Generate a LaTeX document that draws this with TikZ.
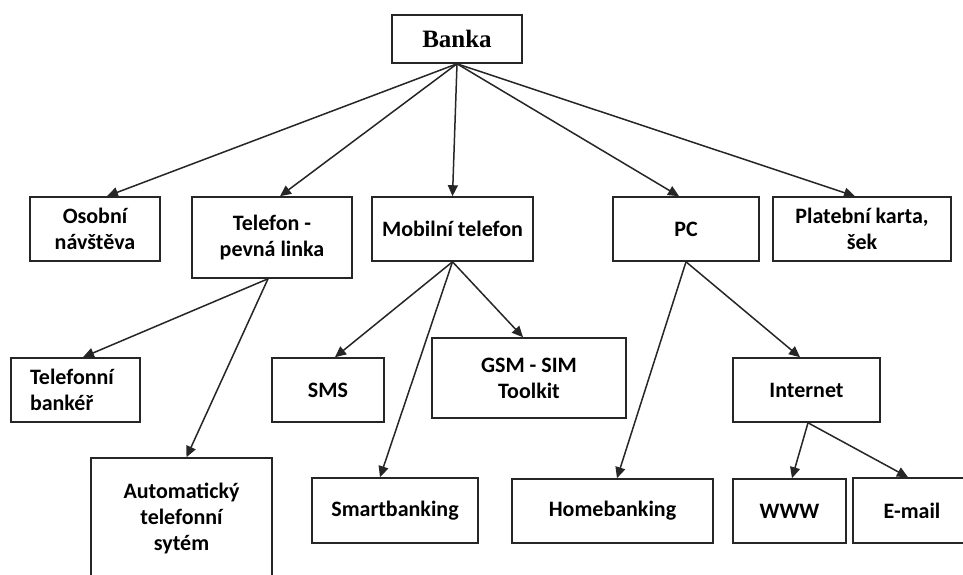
\documentclass[tikz,border=0pt]{standalone}
\usepackage{fontspec}
\setmainfont{Carlito}
\newfontfamily\bankafont{Liberation Serif}
\usetikzlibrary{arrows.meta}
\begin{document}
\begin{tikzpicture}[x=1pt,y=-1pt,
  box/.style={draw=black!85, line width=1.6pt, inner sep=0pt, align=center,
    font=\fontsize{22}{26}\selectfont\bfseries},
  arr/.style={draw=black!85, line width=1.5pt, -{Triangle[length=11pt,width=10pt]}}]

  % Define the page, the boxes at the edges are cut by it
  \clip (0,0) rectangle (963,574);
  \fill[white] (0,0) rectangle (963,574);

  % The top box
  \node[box, minimum width=130, minimum height=48,
    font=\bankafont\fontsize{25}{28}\selectfont\bfseries] (banka) at (457,39) {Banka};

  % First level
  \node[box, minimum width=130, minimum height=64] (osobni) at (95,229) {Osobní\\návštěva};
  \node[box, minimum width=160, minimum height=81] (telefon) at (272,237.5) {Telefon -\\pevná linka};
  \node[box, minimum width=161, minimum height=64] (mobil) at (452.5,229) {Mobilní telefon};
  \node[box, minimum width=146, minimum height=64] (pc) at (686,229) {PC};
  \node[box, minimum width=178, minimum height=64] (karta) at (862,229) {Platební karta,\\šek};

  % Second level
  \node[box, minimum width=129, minimum height=64, text width=91, align=left] (bankar) at (75.5,390) {Telefonní\\bankéř};
  \node[box, minimum width=112, minimum height=64] (sms) at (328,390) {SMS};
  \node[box, minimum width=194, minimum height=80] (gsm) at (529,378) {GSM - SIM\\Toolkit};
  \node[box, minimum width=147, minimum height=64] (internet) at (806.5,390) {Internet};

  % Third level (the lowest box runs off the page)
  \node[box, minimum width=181, minimum height=120] (auto) at (181.5,518) {Automatický\\telefonní\\sytém};
  \node[box, minimum width=166, minimum height=65] (smart) at (395,510.5) {Smartbanking};
  \node[box, minimum width=201, minimum height=64] (home) at (612.5,511) {Homebanking};
  \node[box, minimum width=113, minimum height=64] (www) at (789.5,511) {WWW};
  \node[box, minimum width=118, minimum height=65] (email) at (912,510.5) {E-mail};

  % Arrows from Banka
  \draw[arr] (banka.south) -- ([xshift=12pt]osobni.north);
  \draw[arr] (banka.south) -- ([xshift=8pt]telefon.north);
  \draw[arr] (banka.south) -- (mobil.north);
  \draw[arr] (banka.south) -- ([xshift=-7pt]pc.north);
  \draw[arr] (banka.south) -- ([xshift=-7pt]karta.north);

  % Arrows from the fixed line
  \draw[arr] ([xshift=-4pt]telefon.south) -- ([xshift=7.5pt]bankar.north);
  \draw[arr] ([xshift=-4pt]telefon.south) -- ([xshift=5pt]auto.north);

  % Arrows from the mobile phone
  \draw[arr] (mobil.south) -- ([xshift=7pt]sms.north);
  \draw[arr] (mobil.south) -- ([xshift=-15pt]smart.north);
  \draw[arr] (mobil.south) -- ([xshift=-6pt]gsm.north);

  % Arrows from PC and Internet
  \draw[arr] (pc.south) -- ([xshift=4.5pt]home.north);
  \draw[arr] (pc.south) -- ([xshift=-6.5pt]internet.north);
  \draw[arr] ([xshift=1.5pt]internet.south) -- ([xshift=2.5pt]www.north);
  \draw[arr] ([xshift=1.5pt]internet.south) -- ([xshift=-4pt]email.north);

\end{tikzpicture}
\end{document}
